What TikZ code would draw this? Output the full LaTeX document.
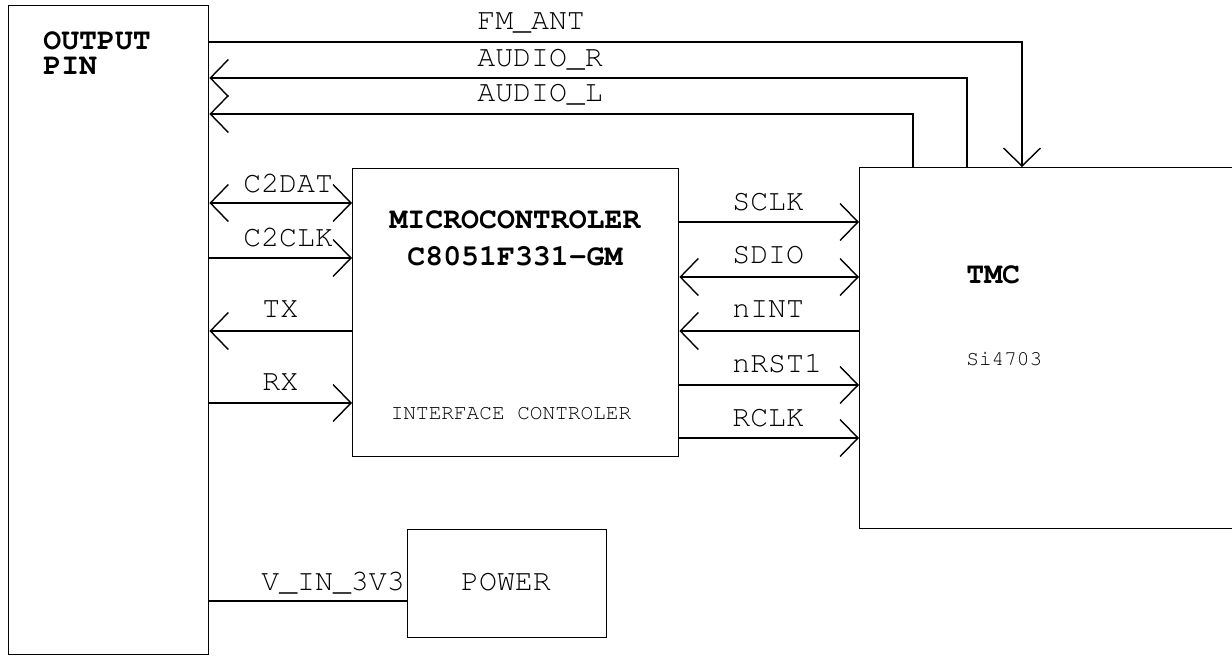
\documentclass[tikz,border=0pt]{standalone}
\usepackage[T1]{fontenc}
\usepackage{tikz}
\usetikzlibrary{arrows.meta}
\newcommand{\sigfont}{\fontfamily{pcr}\fontsize{17}{20}\selectfont}
\newcommand{\smallsig}{\fontfamily{pcr}\fontsize{12}{14}\selectfont}

\begin{document}
\begin{tikzpicture}[x=0.02cm,y=-0.02cm,>={Straight Barb[length=0.36cm,width=0.74cm]},
  box/.style={draw,line width=0.8pt,anchor=north west,inner sep=0pt},
  sig/.style={line width=0.8pt},
  lbl/.style={anchor=base west,inner sep=0pt,font=\sigfont},
  title/.style={anchor=base,inner sep=0pt,font=\sigfont\bfseries}]
\useasboundingbox (0,0) rectangle (1232,656);
\node[box,minimum width=4cm,minimum height=12.98cm] (out) at (8,5) {};
\node[box,minimum width=6.52cm,minimum height=5.76cm] (mcu) at (352,168) {};
\node[box,minimum width=8cm,minimum height=7.22cm] (tmc) at (859,167) {};
\node[box,minimum width=3.98cm,minimum height=2.16cm] (pwr) at (407,529) {};
\node[lbl,anchor=north west,align=left,font=\fontfamily{pcr}\fontsize{17}{14.2}\selectfont\bfseries] (outa) at (43,31) {OUTPUT\\PIN};
\node[title] (mcua) at (515,228) {MICROCONTROLER};
\node[title] (mcub) at (515,265) {C8051F331-GM};
\node[title,font=\smallsig] (mcuc) at (511,419) {INTERFACE CONTROLER};
\node[lbl,font=\sigfont\bfseries] (tmca) at (966,283) {TMC};
\node[lbl,font=\smallsig] (tmcb) at (966,365) {Si4703};
\node[title,font=\sigfont] (pwra) at (506,590) {POWER};
\draw[sig,->] (out.east |- 0,42) -| (tmc.north -| 1022,0);
\draw[sig,->] (tmc.north -| 967,0) |- (out.east |- 0,78);
\draw[sig,->] (tmc.north -| 913,0) |- (out.east |- 0,114);
\node[lbl] (fm) at (477,29) {FM\_ANT};
\node[lbl] (ar) at (477,66) {AUDIO\_R};
\node[lbl] (al) at (477,101) {AUDIO\_L};
\draw[sig,<->] (out.east |- 0,203) -- (mcu.west |- 0,203);
\draw[sig,->] (out.east |- 0,258) -- (mcu.west |- 0,258);
\draw[sig,->] (mcu.west |- 0,331) -- (out.east |- 0,331);
\draw[sig,->] (out.east |- 0,403) -- (mcu.west |- 0,403);
\node[lbl] (c2dat) at (243,192) {C2DAT};
\node[lbl] (c2clk) at (243,246) {C2CLK};
\node[lbl] (tx) at (262,317) {TX};
\node[lbl] (rx) at (262,390) {RX};
\draw[sig,->] (mcu.east |- 0,222) -- (tmc.west |- 0,222);
\draw[sig,<->] (mcu.east |- 0,277) -- (tmc.west |- 0,277);
\draw[sig,->] (tmc.west |- 0,331) -- (mcu.east |- 0,331);
\draw[sig,->] (mcu.east |- 0,385) -- (tmc.west |- 0,385);
\draw[sig,->] (mcu.east |- 0,438) -- (tmc.west |- 0,438);
\node[lbl] (sclk) at (732,210) {SCLK};
\node[lbl] (sdio) at (732,263) {SDIO};
\node[lbl] (nint) at (732,317) {nINT};
\node[lbl] (nrst) at (732,372) {nRST1};
\node[lbl] (rclk) at (732,426) {RCLK};
\draw[sig] (out.east |- 0,601) -- (pwr.west |- 0,601);
\node[lbl] (vin) at (261,590) {V\_IN\_3V3};
\end{tikzpicture}
\end{document}
